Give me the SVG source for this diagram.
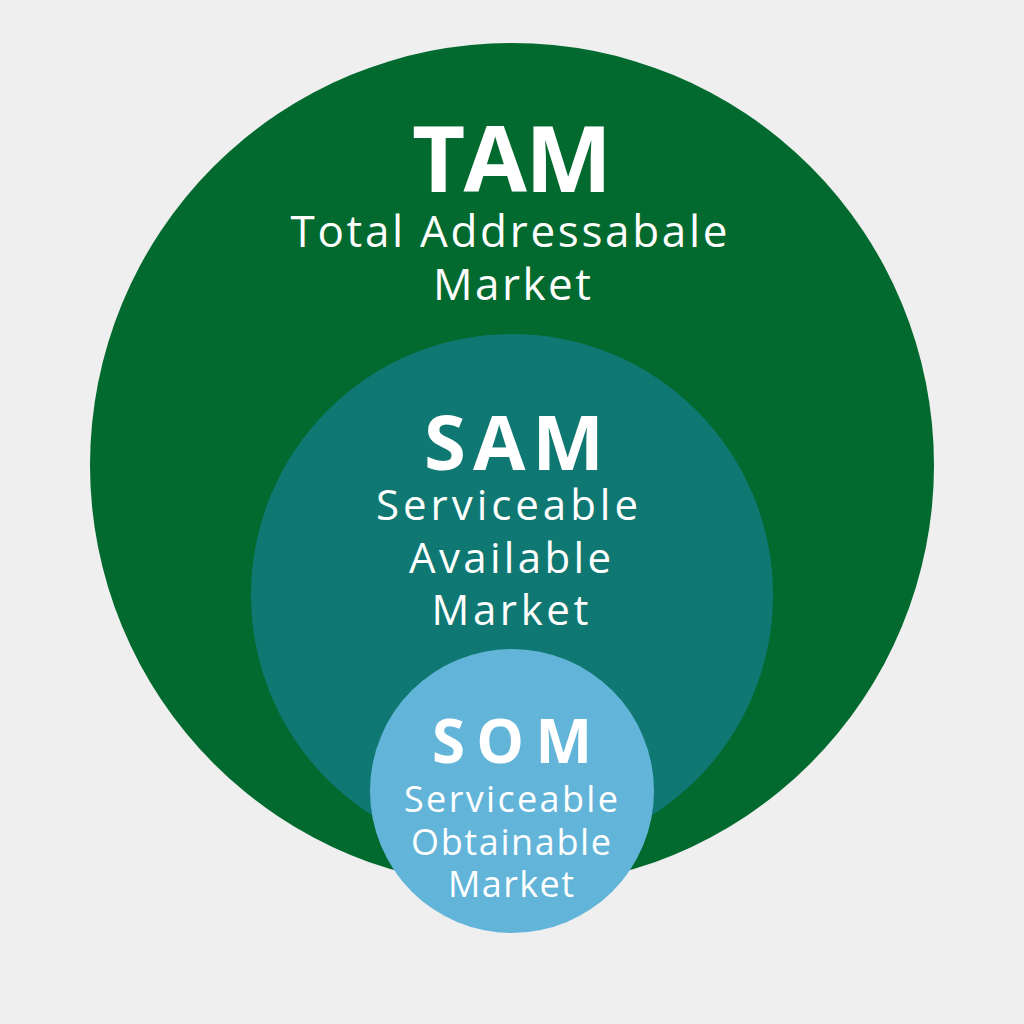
<svg xmlns="http://www.w3.org/2000/svg" width="1024" height="1024" viewBox="0 0 1024 1024">
<style>
text{font-family:"Open Sans","Liberation Sans",sans-serif;fill:#fff;text-anchor:middle}
.h{font-weight:bold}
</style>
<rect width="1024" height="1024" fill="#efefef"/>
<g id="tam"><circle cx="512" cy="465" r="422" fill="#026a2e"/>
<text class="h" x="512" y="192" font-size="92" textLength="200">TAM</text>
<text x="509" y="247" font-size="44" textLength="437">Total Addressabale</text>
<text x="512" y="300" font-size="44" textLength="158">Market</text></g>
<g id="sam"><circle cx="512" cy="595" r="261" fill="#107872"/>
<text class="h" x="514" y="470" font-size="76" textLength="180">SAM</text>
<text x="507" y="520" font-size="42" textLength="262">Serviceable</text>
<text x="510" y="573" font-size="42" textLength="202">Available</text>
<text x="510" y="625" font-size="42" textLength="157">Market</text></g>
<g id="som"><circle cx="512" cy="791" r="142" fill="#62b5d8"/>
<text class="h" x="512" y="763" font-size="60" textLength="160">SOM</text>
<text x="511" y="812" font-size="36" textLength="214">Serviceable</text>
<text x="511" y="855" font-size="36" textLength="200">Obtainable</text>
<text x="511" y="897" font-size="36" textLength="126">Market</text></g>
<g id="connectors"/>
</svg>
